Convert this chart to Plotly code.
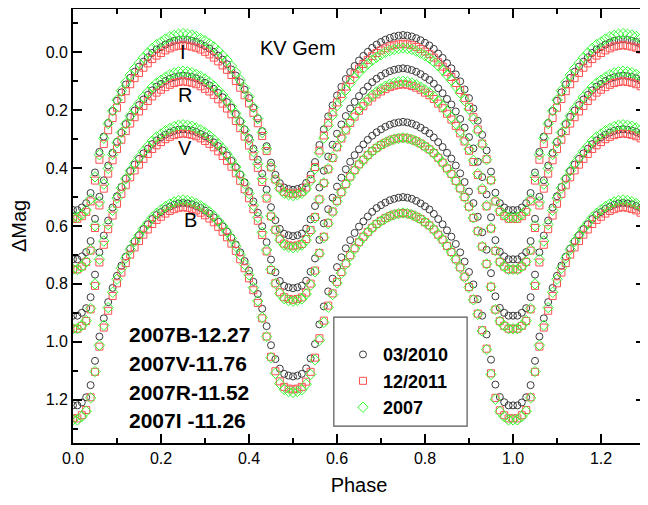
import plotly.graph_objects as go

# Phase grids (hundredths of the period)
PHASE_EVEN = [0.00, 0.02, 0.04, 0.06, 0.08, 0.10, 0.12, 0.14, 0.16, 0.18, 0.20, 0.22, 0.24,
              0.26, 0.28, 0.30, 0.32, 0.34, 0.36, 0.38, 0.40, 0.42, 0.44, 0.46, 0.48,
              0.50, 0.52, 0.54, 0.56, 0.58, 0.60, 0.62, 0.64, 0.66, 0.68, 0.70, 0.72, 0.74,
              0.76, 0.78, 0.80, 0.82, 0.84, 0.86, 0.88, 0.90, 0.92, 0.94, 0.96, 0.98]
PHASE_ODD = [0.01, 0.03, 0.05, 0.07, 0.09, 0.11, 0.13, 0.15, 0.17, 0.19, 0.21, 0.23, 0.25,
             0.27, 0.29, 0.31, 0.33, 0.35, 0.37, 0.39, 0.41, 0.43, 0.45, 0.47, 0.49,
             0.51, 0.53, 0.55, 0.57, 0.59, 0.61, 0.63, 0.65, 0.67, 0.69, 0.71, 0.73, 0.75,
             0.77, 0.79, 0.81, 0.83, 0.85, 0.87, 0.89, 0.91, 0.93, 0.95, 0.97, 0.99]

# ================= 12/2011 (red squares) =================
I_2011_E = [0.575, 0.566, 0.515, 0.371, 0.269, 0.191, 0.134, 0.089, 0.053, 0.023, 0.002, -0.014, -0.023,
            -0.023, -0.016, -0.002, 0.018, 0.045, 0.078, 0.122, 0.176, 0.245, 0.341, 0.439, 0.482,
            0.490, 0.482, 0.438, 0.339, 0.243, 0.173, 0.118, 0.074, 0.040, 0.013, -0.007, -0.021, -0.028,
            -0.028, -0.019, -0.003, 0.018, 0.049, 0.085, 0.130, 0.188, 0.266, 0.369, 0.515, 0.566]
I_2011_O = [0.575, 0.551, 0.443, 0.317, 0.227, 0.161, 0.110, 0.071, 0.038, 0.011, -0.007, -0.020, -0.025,
            -0.020, -0.010, 0.007, 0.031, 0.060, 0.099, 0.148, 0.209, 0.289, 0.397, 0.467, 0.487,
            0.487, 0.467, 0.396, 0.287, 0.207, 0.144, 0.095, 0.056, 0.026, 0.002, -0.014, -0.025, -0.030,
            -0.025, -0.012, 0.006, 0.034, 0.067, 0.106, 0.158, 0.224, 0.315, 0.442, 0.551, 0.575]
R_2011_E = [0.750, 0.740, 0.685, 0.529, 0.419, 0.334, 0.272, 0.224, 0.185, 0.152, 0.129, 0.112, 0.102,
            0.102, 0.110, 0.126, 0.147, 0.177, 0.214, 0.262, 0.322, 0.399, 0.505, 0.613, 0.661,
            0.670, 0.662, 0.614, 0.508, 0.404, 0.328, 0.270, 0.222, 0.186, 0.156, 0.135, 0.120, 0.112,
            0.112, 0.122, 0.139, 0.161, 0.193, 0.232, 0.280, 0.340, 0.424, 0.532, 0.686, 0.740]
R_2011_O = [0.750, 0.724, 0.607, 0.471, 0.373, 0.302, 0.246, 0.204, 0.168, 0.139, 0.120, 0.106, 0.100,
            0.105, 0.117, 0.135, 0.162, 0.194, 0.237, 0.291, 0.359, 0.448, 0.567, 0.644, 0.667,
            0.667, 0.645, 0.569, 0.452, 0.365, 0.298, 0.244, 0.202, 0.170, 0.145, 0.127, 0.115, 0.110,
            0.116, 0.129, 0.148, 0.177, 0.212, 0.254, 0.308, 0.379, 0.475, 0.609, 0.724, 0.750]
V_2011_E = [0.955, 0.945, 0.888, 0.726, 0.611, 0.523, 0.459, 0.408, 0.368, 0.334, 0.310, 0.292, 0.282,
            0.282, 0.290, 0.306, 0.328, 0.358, 0.395, 0.444, 0.504, 0.582, 0.688, 0.798, 0.846,
            0.855, 0.847, 0.799, 0.693, 0.589, 0.513, 0.455, 0.407, 0.371, 0.341, 0.320, 0.305, 0.297,
            0.297, 0.307, 0.325, 0.348, 0.381, 0.420, 0.470, 0.533, 0.618, 0.731, 0.889, 0.945]
V_2011_O = [0.955, 0.928, 0.807, 0.665, 0.564, 0.489, 0.432, 0.388, 0.351, 0.321, 0.300, 0.286, 0.280,
            0.285, 0.297, 0.316, 0.342, 0.375, 0.418, 0.473, 0.542, 0.631, 0.752, 0.829, 0.852,
            0.852, 0.830, 0.754, 0.637, 0.550, 0.483, 0.429, 0.387, 0.355, 0.330, 0.312, 0.300, 0.295,
            0.301, 0.315, 0.335, 0.364, 0.401, 0.444, 0.500, 0.572, 0.671, 0.810, 0.929, 0.955]
B_2011_E = [1.265, 1.254, 1.192, 1.017, 0.893, 0.798, 0.728, 0.674, 0.630, 0.593, 0.568, 0.548, 0.537,
            0.537, 0.546, 0.563, 0.587, 0.620, 0.661, 0.715, 0.781, 0.866, 0.982, 1.102, 1.156,
            1.165, 1.156, 1.104, 0.988, 0.875, 0.793, 0.729, 0.677, 0.637, 0.606, 0.582, 0.566, 0.557,
            0.557, 0.568, 0.587, 0.612, 0.647, 0.690, 0.743, 0.811, 0.903, 1.024, 1.194, 1.254]
B_2011_O = [1.265, 1.236, 1.104, 0.951, 0.842, 0.761, 0.699, 0.652, 0.612, 0.579, 0.557, 0.542, 0.535,
            0.541, 0.554, 0.574, 0.603, 0.639, 0.686, 0.746, 0.822, 0.919, 1.052, 1.137, 1.162,
            1.162, 1.138, 1.055, 0.927, 0.833, 0.759, 0.701, 0.656, 0.621, 0.593, 0.573, 0.560, 0.555,
            0.561, 0.576, 0.598, 0.630, 0.669, 0.715, 0.775, 0.853, 0.960, 1.109, 1.237, 1.265]

# ================= 2007 (green diamonds) =================
I_2007_O = [0.570, 0.545, 0.430, 0.297, 0.202, 0.132, 0.078, 0.037, 0.002, -0.027, -0.046, -0.059, -0.065,
            -0.060, -0.048, -0.030, -0.005, 0.027, 0.069, 0.123, 0.190, 0.277, 0.394, 0.470, 0.492,
            0.492, 0.472, 0.403, 0.296, 0.217, 0.156, 0.107, 0.069, 0.040, 0.017, 0.000, -0.010, -0.015,
            -0.010, 0.003, 0.020, 0.046, 0.079, 0.117, 0.166, 0.231, 0.318, 0.441, 0.547, 0.570]
I_2007_E = [0.570, 0.560, 0.507, 0.354, 0.246, 0.164, 0.103, 0.056, 0.018, -0.014, -0.036, -0.054, -0.063,
            -0.063, -0.055, -0.040, -0.019, 0.011, 0.047, 0.095, 0.153, 0.229, 0.333, 0.439, 0.487,
            0.495, 0.487, 0.444, 0.347, 0.253, 0.184, 0.130, 0.087, 0.054, 0.027, 0.008, -0.006, -0.013,
            -0.013, -0.004, 0.011, 0.032, 0.061, 0.096, 0.140, 0.196, 0.272, 0.371, 0.512, 0.561]
R_2007_O = [0.750, 0.723, 0.599, 0.455, 0.353, 0.277, 0.219, 0.175, 0.137, 0.106, 0.086, 0.071, 0.065,
            0.070, 0.083, 0.103, 0.131, 0.166, 0.211, 0.269, 0.343, 0.437, 0.565, 0.648, 0.672,
            0.672, 0.649, 0.572, 0.451, 0.362, 0.293, 0.238, 0.195, 0.162, 0.136, 0.117, 0.105, 0.100,
            0.106, 0.120, 0.139, 0.168, 0.204, 0.246, 0.302, 0.373, 0.471, 0.607, 0.724, 0.750]
R_2007_E = [0.750, 0.740, 0.682, 0.517, 0.401, 0.312, 0.247, 0.195, 0.154, 0.120, 0.096, 0.077, 0.067,
            0.067, 0.076, 0.092, 0.116, 0.147, 0.187, 0.239, 0.303, 0.385, 0.498, 0.614, 0.666,
            0.675, 0.666, 0.618, 0.508, 0.402, 0.324, 0.264, 0.215, 0.178, 0.148, 0.126, 0.110, 0.102,
            0.102, 0.112, 0.129, 0.152, 0.185, 0.224, 0.272, 0.334, 0.419, 0.529, 0.685, 0.740]
V_2007_O = [0.955, 0.927, 0.800, 0.652, 0.546, 0.469, 0.409, 0.363, 0.324, 0.292, 0.271, 0.256, 0.250,
            0.255, 0.268, 0.288, 0.316, 0.351, 0.396, 0.454, 0.528, 0.622, 0.750, 0.833, 0.857,
            0.857, 0.835, 0.758, 0.640, 0.552, 0.484, 0.431, 0.388, 0.356, 0.330, 0.312, 0.300, 0.295,
            0.301, 0.315, 0.335, 0.364, 0.401, 0.444, 0.500, 0.572, 0.671, 0.810, 0.929, 0.955]
V_2007_E = [0.955, 0.944, 0.885, 0.715, 0.595, 0.504, 0.437, 0.384, 0.342, 0.306, 0.282, 0.263, 0.252,
            0.252, 0.261, 0.277, 0.301, 0.332, 0.372, 0.424, 0.488, 0.570, 0.683, 0.799, 0.851,
            0.860, 0.852, 0.804, 0.696, 0.592, 0.515, 0.456, 0.408, 0.371, 0.342, 0.320, 0.305, 0.297,
            0.297, 0.307, 0.325, 0.348, 0.381, 0.420, 0.470, 0.533, 0.618, 0.731, 0.889, 0.945]
B_2007_O = [1.270, 1.240, 1.103, 0.943, 0.829, 0.746, 0.681, 0.632, 0.590, 0.556, 0.533, 0.517, 0.510,
            0.516, 0.530, 0.551, 0.582, 0.620, 0.670, 0.733, 0.813, 0.916, 1.055, 1.145, 1.172,
            1.172, 1.147, 1.063, 0.933, 0.837, 0.763, 0.704, 0.657, 0.622, 0.593, 0.574, 0.561, 0.555,
            0.561, 0.576, 0.598, 0.630, 0.669, 0.716, 0.777, 0.855, 0.963, 1.113, 1.241, 1.270]
B_2007_E = [1.270, 1.259, 1.194, 1.012, 0.882, 0.784, 0.711, 0.654, 0.609, 0.571, 0.544, 0.524, 0.512,
            0.512, 0.522, 0.540, 0.565, 0.600, 0.643, 0.700, 0.769, 0.859, 0.982, 1.109, 1.165,
            1.175, 1.166, 1.113, 0.995, 0.881, 0.797, 0.732, 0.679, 0.639, 0.606, 0.583, 0.566, 0.557,
            0.557, 0.568, 0.587, 0.612, 0.648, 0.691, 0.744, 0.812, 0.905, 1.027, 1.199, 1.259]

# ================= 03/2010 (black circles) =================
I_2010_O = [0.545, 0.521, 0.415, 0.291, 0.203, 0.138, 0.088, 0.049, 0.017, -0.010, -0.027, -0.040, -0.045,
            -0.040, -0.029, -0.013, 0.011, 0.041, 0.080, 0.129, 0.192, 0.272, 0.381, 0.452, 0.472,
            0.472, 0.451, 0.379, 0.266, 0.183, 0.119, 0.068, 0.028, -0.002, -0.027, -0.044, -0.055, -0.060,
            -0.055, -0.042, -0.024, 0.004, 0.037, 0.076, 0.128, 0.194, 0.285, 0.412, 0.521, 0.545]
I_2010_E = [0.545, 0.536, 0.486, 0.344, 0.244, 0.167, 0.111, 0.067, 0.032, 0.002, -0.018, -0.034, -0.043,
            -0.043, -0.036, -0.022, -0.002, 0.025, 0.059, 0.103, 0.158, 0.228, 0.324, 0.423, 0.467,
            0.475, 0.467, 0.422, 0.320, 0.221, 0.149, 0.092, 0.047, 0.012, -0.016, -0.036, -0.050, -0.058,
            -0.058, -0.049, -0.033, -0.012, 0.019, 0.055, 0.100, 0.158, 0.236, 0.339, 0.485, 0.536]
R_2010_O = [0.715, 0.690, 0.575, 0.442, 0.347, 0.277, 0.223, 0.182, 0.147, 0.118, 0.099, 0.086, 0.080,
            0.085, 0.097, 0.114, 0.140, 0.172, 0.213, 0.266, 0.333, 0.419, 0.535, 0.610, 0.632,
            0.632, 0.609, 0.531, 0.409, 0.319, 0.249, 0.194, 0.151, 0.118, 0.091, 0.072, 0.060, 0.055,
            0.061, 0.075, 0.095, 0.124, 0.161, 0.204, 0.260, 0.332, 0.431, 0.570, 0.689, 0.715]
R_2010_E = [0.715, 0.705, 0.652, 0.499, 0.391, 0.309, 0.248, 0.201, 0.163, 0.131, 0.109, 0.091, 0.082,
            0.082, 0.090, 0.105, 0.126, 0.155, 0.191, 0.238, 0.296, 0.371, 0.474, 0.580, 0.627,
            0.635, 0.626, 0.577, 0.467, 0.360, 0.281, 0.220, 0.171, 0.133, 0.103, 0.081, 0.065, 0.057,
            0.057, 0.067, 0.085, 0.108, 0.141, 0.180, 0.230, 0.293, 0.378, 0.491, 0.649, 0.705]
V_2010_O = [0.910, 0.884, 0.768, 0.633, 0.536, 0.465, 0.410, 0.368, 0.333, 0.304, 0.284, 0.271, 0.265,
            0.270, 0.282, 0.299, 0.324, 0.356, 0.397, 0.449, 0.515, 0.601, 0.716, 0.790, 0.812,
            0.812, 0.789, 0.712, 0.591, 0.502, 0.433, 0.378, 0.335, 0.302, 0.276, 0.257, 0.245, 0.240,
            0.246, 0.260, 0.280, 0.310, 0.347, 0.391, 0.448, 0.521, 0.622, 0.763, 0.883, 0.910]
V_2010_E = [0.910, 0.900, 0.846, 0.691, 0.581, 0.497, 0.436, 0.388, 0.349, 0.317, 0.294, 0.277, 0.267,
            0.267, 0.275, 0.290, 0.311, 0.339, 0.375, 0.422, 0.480, 0.554, 0.656, 0.760, 0.807,
            0.815, 0.806, 0.758, 0.648, 0.542, 0.464, 0.404, 0.355, 0.318, 0.288, 0.266, 0.250, 0.242,
            0.242, 0.252, 0.270, 0.294, 0.327, 0.367, 0.418, 0.481, 0.568, 0.682, 0.843, 0.900]
B_2010_O = [1.220, 1.192, 1.066, 0.919, 0.814, 0.737, 0.678, 0.632, 0.594, 0.562, 0.541, 0.526, 0.520,
            0.525, 0.538, 0.557, 0.585, 0.619, 0.664, 0.721, 0.793, 0.886, 1.012, 1.093, 1.117,
            1.117, 1.092, 1.008, 0.878, 0.782, 0.708, 0.649, 0.602, 0.567, 0.538, 0.519, 0.506, 0.500,
            0.506, 0.522, 0.543, 0.576, 0.615, 0.662, 0.723, 0.802, 0.910, 1.062, 1.191, 1.220]
B_2010_E = [1.220, 1.210, 1.150, 0.982, 0.863, 0.772, 0.706, 0.653, 0.611, 0.576, 0.552, 0.533, 0.522,
            0.522, 0.531, 0.547, 0.570, 0.601, 0.640, 0.691, 0.754, 0.835, 0.946, 1.060, 1.111,
            1.120, 1.111, 1.058, 0.940, 0.826, 0.742, 0.677, 0.624, 0.584, 0.551, 0.528, 0.511, 0.502,
            0.502, 0.513, 0.532, 0.558, 0.594, 0.637, 0.691, 0.759, 0.853, 0.975, 1.148, 1.209]

COMPARISON_TEXT = ["2007B-12.27", "2007V-11.76", "2007R-11.52", "2007I -11.26"]
BAND_LABELS = ["I", "R", "V", "B"]
BAND_LABEL_POS = [(0.250, 0.000), (0.254, 0.148), (0.254, 0.330), (0.266, 0.580)]

FONT = "Arial, Liberation Sans, sans-serif"


def fold(pairs, extend_to=0.30):
    """pairs: list of (phases, values); repeat phases <= extend_to one cycle later."""
    xs, ys = [], []
    for phases, vals in pairs:
        for p, v in zip(phases, vals):
            xs.append(p)
            ys.append(v)
            if p <= extend_to:
                xs.append(p + 1.0)
                ys.append(v)
    return xs, ys


series = [
    ("03/2010", [(PHASE_ODD, I_2010_O), (PHASE_EVEN, I_2010_E), (PHASE_ODD, R_2010_O), (PHASE_EVEN, R_2010_E),
                 (PHASE_ODD, V_2010_O), (PHASE_EVEN, V_2010_E), (PHASE_ODD, B_2010_O), (PHASE_EVEN, B_2010_E)],
     "circle-open", "#3a3a3a", 7),
    ("12/2011", [(PHASE_EVEN, I_2011_E), (PHASE_ODD, I_2011_O), (PHASE_EVEN, R_2011_E), (PHASE_ODD, R_2011_O),
                 (PHASE_EVEN, V_2011_E), (PHASE_ODD, V_2011_O), (PHASE_EVEN, B_2011_E), (PHASE_ODD, B_2011_O)],
     "square-open", "#ff5050", 7),
    ("2007", [(PHASE_ODD, I_2007_O), (PHASE_EVEN, I_2007_E), (PHASE_ODD, R_2007_O), (PHASE_EVEN, R_2007_E),
              (PHASE_ODD, V_2007_O), (PHASE_EVEN, V_2007_E), (PHASE_ODD, B_2007_O), (PHASE_EVEN, B_2007_E)],
     "diamond-open", "#33ff33", 8),
]

fig = go.Figure()
for name, pairs, sym, col, size in series:
    x, y = fold(pairs)
    fig.add_trace(go.Scatter(
        x=x, y=y, mode="markers", name="<b>" + name + "</b>",
        marker=dict(symbol=sym, size=size, color=col, line=dict(width=1, color=col)),
    ))

annotations = []
for lab, (px, py) in zip(BAND_LABELS, BAND_LABEL_POS):
    annotations.append(dict(x=px, y=py, xref="x", yref="y", text=lab, showarrow=False,
                            font=dict(family=FONT, size=20, color="black")))
annotations.append(dict(x=0.394, y=0.94, xref="paper", yref="paper", text="KV Gem",
                        showarrow=False, font=dict(family=FONT, size=20, color="black")))
row_y = [0.249, 0.184, 0.117, 0.052]
for t, yy in zip(COMPARISON_TEXT, row_y):
    annotations.append(dict(x=0.094, y=yy, xref="paper", yref="paper", text="<b>" + t + "</b>",
                            showarrow=False, xanchor="left", yanchor="middle",
                            font=dict(family=FONT, size=21, color="black")))

axis_common = dict(
    showline=True, linecolor="black", linewidth=1.8, mirror="allticks",
    ticks="inside", ticklen=9, tickwidth=1.5, tickcolor="black",
    showgrid=False, zeroline=False, automargin=False,
    tickfont=dict(family=FONT, size=16, color="black"),
    minor=dict(ticks="inside", ticklen=5, tickwidth=1.5, tickcolor="black", dtick=0.1, showgrid=False),
)

# the page body adds an 8px offset, so the figure is sized 8px smaller and margins shifted
fig.update_layout(
    width=640, height=497,
    margin=dict(l=65, r=3, t=1, b=62),
    paper_bgcolor="white", plot_bgcolor="white",
    font=dict(family=FONT, color="black"),
    xaxis=dict(range=[0, 1.3], dtick=0.2, tick0=0, tickformat=".1f",
               title=dict(text="Phase", font=dict(family=FONT, size=20), standoff=12),
               **axis_common),
    yaxis=dict(range=[1.35, -0.15], dtick=0.2, tick0=0, tickformat=".1f",
               title=dict(text="ΔMag", font=dict(family=FONT, size=20), standoff=14),
               **axis_common),
    legend=dict(x=0.472, y=0.246, xanchor="left", yanchor="top",
                borderwidth=0, bgcolor="rgba(0,0,0,0)",
                font=dict(family=FONT, size=18, color="black"),
                itemsizing="trace"),
    shapes=[dict(type="rect", xref="paper", yref="paper", x0=0.456, x1=0.689, y0=0.039, y1=0.290,
                 line=dict(color="#555555", width=1.2), fillcolor="white", layer="below")],
    annotations=annotations,
    showlegend=True,
)

fig.write_html("out.html")
